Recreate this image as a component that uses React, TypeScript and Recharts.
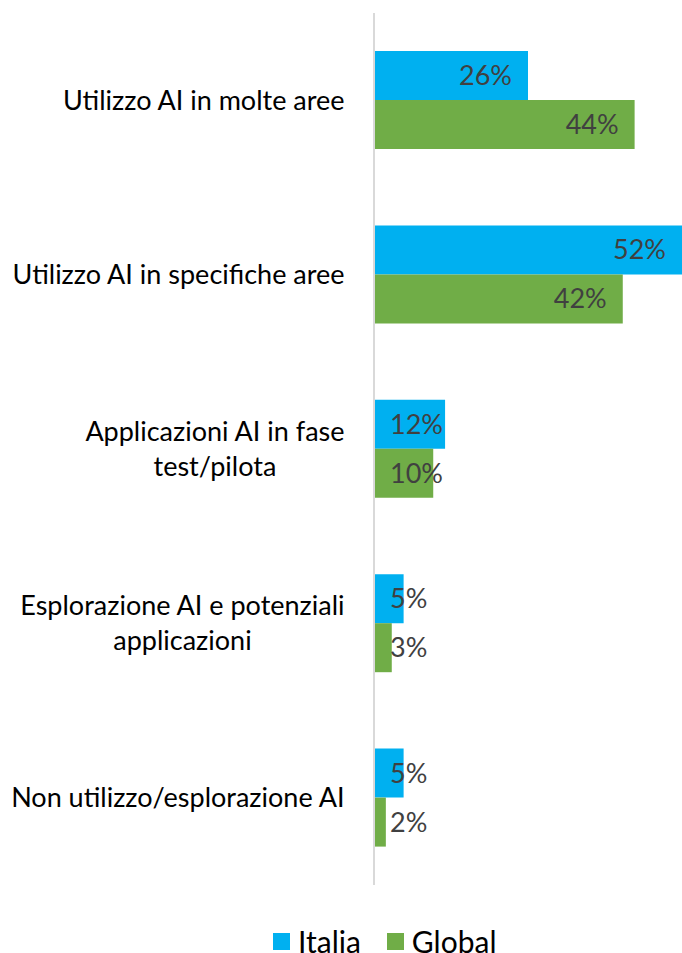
import React from 'react';
import { BarChart, Bar, XAxis, YAxis, LabelList } from 'recharts';

const categories = [
  'Utilizzo AI in molte aree',
  'Utilizzo AI in specifiche aree',
  'Applicazioni AI in fase\ntest/pilota',
  'Esplorazione AI e potenziali\napplicazioni',
  'Non utilizzo/esplorazione AI',
];
const italia = [26, 52, 12, 5, 5];
const global = [44, 42, 10, 3, 2];
const seriesNames = ['Italia', 'Global'];
const colors = ['#00B0F0', '#70AD47'];

const FONT = 'Lato, "Open Sans", sans-serif';
const FONT_SIZE = 27;

const chartData = categories.map((name, i) => ({ name, italia: italia[i], global: global[i] }));

let ctx: CanvasRenderingContext2D | null = null;
const textWidth = (s: string, size: number) => {
  if (!ctx) ctx = document.createElement('canvas').getContext('2d');
  if (!ctx) return s.length * size * 0.5;
  ctx.font = `${size}px ${FONT}`;
  return ctx.measureText(s).width;
};

const CategoryTick = (props: any) => {
  const { y, payload } = props;
  const lines = String(payload.value).split('\n');
  const w = Math.max(...lines.map(l => textWidth(l, FONT_SIZE)));
  const cx = 345 - w / 2;
  const lh = 35;
  return (
    <text textAnchor="middle" fill="#000" fontSize={FONT_SIZE} fontFamily={FONT}>
      {lines.map((l, i) => (
        <tspan key={i} x={cx} y={y + (i - (lines.length - 1) / 2) * lh} dy="0.35em">
          {l}
        </tspan>
      ))}
    </text>
  );
};

const ValueLabel = (props: any) => {
  const { x, y, width, height, value } = props;
  const t = `${value}%`;
  const w = textWidth(t, FONT_SIZE);
  const end = Math.max(x + width - 16, x + 16 + w);
  return (
    <text x={end} y={y + height / 2} dy="0.35em" textAnchor="end" fill="#404040" fontSize={FONT_SIZE} fontFamily={FONT}>
      {t}
    </text>
  );
};

export default function App() {
  return (
    <div style={{ position: 'absolute', left: 0, top: 0, width: 682, height: 953, background: '#fff', overflow: 'hidden' }}>
      <BarChart
        width={682}
        height={953}
        data={chartData}
        layout="vertical"
        margin={{ top: 13, right: 0, left: 0, bottom: 68 }}
        barCategoryGap={38}
        barGap={0}
      >
        <XAxis type="number" domain={[0, 52]} hide />
        <YAxis
          type="category"
          dataKey="name"
          width={374}
          tickLine={false}
          axisLine={{ stroke: '#D9D9D9', strokeWidth: 2 }}
          tick={<CategoryTick />}
          interval={0}
        />
        <Bar dataKey="italia" name={seriesNames[0]} fill={colors[0]} isAnimationActive={false}>
          <LabelList dataKey="italia" content={<ValueLabel />} />
        </Bar>
        <Bar dataKey="global" name={seriesNames[1]} fill={colors[1]} isAnimationActive={false}>
          <LabelList dataKey="global" content={<ValueLabel />} />
        </Bar>
      </BarChart>
      <div
        style={{
          position: 'absolute',
          left: 273,
          top: 929,
          height: 24,
          display: 'flex',
          alignItems: 'center',
          fontFamily: FONT,
          fontSize: 30,
          lineHeight: '24px',
          color: '#000',
        }}
      >
        {seriesNames.map((n, i) => (
          <div key={n} style={{ display: 'flex', alignItems: 'center', marginRight: i === 0 ? 26 : 0 }}>
            <span style={{ display: 'inline-block', width: 17, height: 17, background: colors[i], marginRight: 8 }} />
            <span>{n}</span>
          </div>
        ))}
      </div>
    </div>
  );
}
